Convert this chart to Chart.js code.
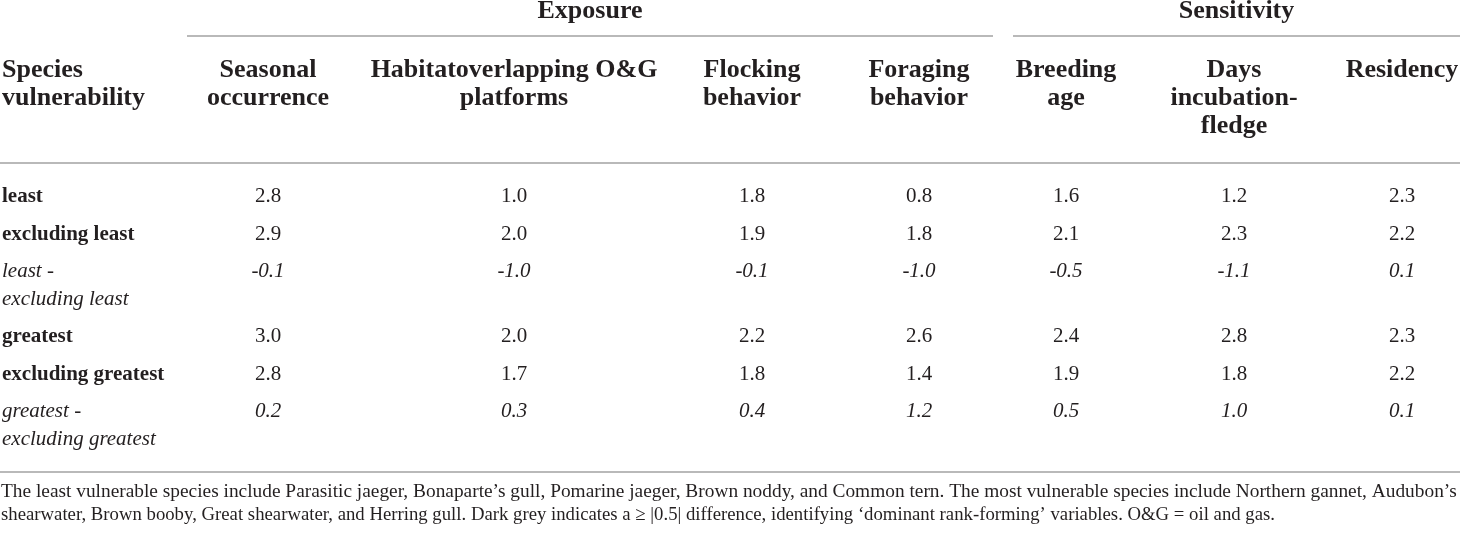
<!DOCTYPE html>
<html>
<head>
<meta charset="utf-8">
<script src="https://cdn.jsdelivr.net/npm/chart.js@4.4.1/dist/chart.umd.min.js"></script>
<style>
  html, body { margin: 0; padding: 0; background: #fff; }
  canvas { display: block; }
</style>
</head>
<body>
<canvas id="table" width="1460" height="533"></canvas>
<script>
// table content
const groups = ["Exposure", "Sensitivity"];
const groupCols = [[0, 3], [4, 6]];
const stubHeader = ["Species", "vulnerability"];
const columns = [
  ["Seasonal", "occurrence"],
  ["Habitatoverlapping O&G", "platforms"],
  ["Flocking", "behavior"],
  ["Foraging", "behavior"],
  ["Breeding", "age"],
  ["Days", "incubation-", "fledge"],
  ["Residency"],
];
const rowLabels = [
  ["least"],
  ["excluding least"],
  ["least -", "excluding least"],
  ["greatest"],
  ["excluding greatest"],
  ["greatest -", "excluding greatest"],
];
const italicRows = [false, false, true, false, false, true];

const least = [2.8, 1.0, 1.8, 0.8, 1.6, 1.2, 2.3];
const exclLeast = [2.9, 2.0, 1.9, 1.8, 2.1, 2.3, 2.2];
const leastDiff = [-0.1, -1.0, -0.1, -1.0, -0.5, -1.1, 0.1];
const greatest = [3.0, 2.0, 2.2, 2.6, 2.4, 2.8, 2.3];
const exclGreatest = [2.8, 1.7, 1.8, 1.4, 1.9, 1.8, 2.2];
const greatestDiff = [0.2, 0.3, 0.4, 1.2, 0.5, 1.0, 0.1];
const rows = [least, exclLeast, leastDiff, greatest, exclGreatest, greatestDiff];

const footnote = [
  "The least vulnerable species include Parasitic jaeger, Bonaparte\u2019s gull, Pomarine jaeger, Brown noddy, and Common tern. The most vulnerable species include Northern gannet, Audubon\u2019s",
  "shearwater, Brown booby, Great shearwater, and Herring gull. Dark grey indicates a \u2265 |0.5| difference, identifying \u2018dominant rank-forming\u2019 variables. O&G = oil and gas.",
];

// layout (in scale units)
const W = 1460, H = 533;
const colWidths = [187, 162, 330, 146, 188, 106, 230, 106];
const groupY = 18, groupRuleY = 36;
const headBase = 77, headLine = 28;
const headRuleY = 163;
const bodyBase = 202, rowStep = 37.5, lineStep = 27.5;
const bottomRuleY = 472;
const noteBase = [497, 520];
const noteWidth = [1456, 1274];

const ink = "#231f20";
const ruleColor = "#b9b9b9";
const serif = "'Liberation Serif', 'DejaVu Serif', serif";

const colStart = [];
let acc = 0;
colWidths.forEach((w) => { colStart.push(acc); acc += w; });
const colStartOf = (c) => colStart[c + 1];
const colEndOf = (c) => colStart[c + 1] + colWidths[c + 1];
const colCenter = (c) => colStartOf(c) + colWidths[c + 1] / 2;

const rowBase = [];
let yy = bodyBase;
rowLabels.forEach((lines) => {
  rowBase.push(yy);
  yy += rowStep + (lines.length - 1) * lineStep;
});

const datasets = rows.map((vals, r) => ({
  label: rowLabels[r].join(" "),
  data: vals.map((v, c) => ({ x: colCenter(c), y: rowBase[r], v: v })),
  pointRadius: 0,
  italic: italicRows[r],
}));

const tablePlugin = {
  id: "tableText",
  afterDraw(chart) {
    const ctx = chart.ctx;
    const sx = chart.scales.x, sy = chart.scales.y;
    const X = (v) => sx.getPixelForValue(v);
    const Y = (v) => sy.getPixelForValue(v);
    ctx.save();
    ctx.fillStyle = ink;
    ctx.textBaseline = "alphabetic";

    // rules
    ctx.strokeStyle = ruleColor;
    ctx.lineWidth = 2;
    const hline = (x0, x1, y) => {
      ctx.beginPath();
      ctx.moveTo(X(x0), Y(y));
      ctx.lineTo(X(x1), Y(y));
      ctx.stroke();
    };
    groupCols.forEach(([a, b], g) => {
      const x0 = colStartOf(a);
      const x1 = g === groups.length - 1 ? W : colEndOf(b) - 20;
      hline(x0, x1, groupRuleY);
      ctx.font = "bold 26px " + serif;
      ctx.textAlign = "center";
      ctx.fillText(groups[g], X((x0 + x1) / 2), Y(groupY));
    });
    hline(0, W, headRuleY);
    hline(0, W, bottomRuleY);

    // column headers
    ctx.font = "bold 26px " + serif;
    ctx.textAlign = "left";
    stubHeader.forEach((t, i) => ctx.fillText(t, X(2), Y(headBase + i * headLine)));
    ctx.textAlign = "center";
    columns.forEach((lines, c) => {
      lines.forEach((t, i) => ctx.fillText(t, X(colCenter(c)), Y(headBase + i * headLine)));
    });

    // row labels
    ctx.textAlign = "left";
    rowLabels.forEach((lines, r) => {
      ctx.font = (italicRows[r] ? "italic " : "bold ") + "21px " + serif;
      lines.forEach((t, i) => ctx.fillText(t, X(2), Y(rowBase[r] + i * lineStep)));
    });

    // values, placed by the scatter elements
    ctx.textAlign = "center";
    chart.data.datasets.forEach((ds, d) => {
      ctx.font = (ds.italic ? "italic " : "") + "21px " + serif;
      chart.getDatasetMeta(d).data.forEach((el, i) => {
        ctx.fillText(ds.data[i].v.toFixed(1), el.x, el.y);
      });
    });

    // footnote, sized to fill the width
    ctx.textAlign = "left";
    ctx.font = "18px " + serif;
    const size = 18 * (X(noteWidth[0]) - X(0)) / ctx.measureText(footnote[0]).width;
    ctx.font = size.toFixed(2) + "px " + serif;
    footnote.forEach((t, i) => {
      ctx.fillText(t, X(1), Y(noteBase[i]), X(noteWidth[i]) - X(0));
    });
    ctx.restore();
  },
};

new Chart(document.getElementById("table").getContext("2d"), {
  type: "scatter",
  data: { datasets },
  options: {
    responsive: false,
    animation: false,
    layout: { padding: 0 },
    plugins: { legend: { display: false }, tooltip: { enabled: false } },
    scales: {
      x: { type: "linear", min: 0, max: W, display: false },
      y: { type: "linear", min: 0, max: H, reverse: true, display: false },
    },
  },
  plugins: [tablePlugin],
});
</script>
</body>
</html>
